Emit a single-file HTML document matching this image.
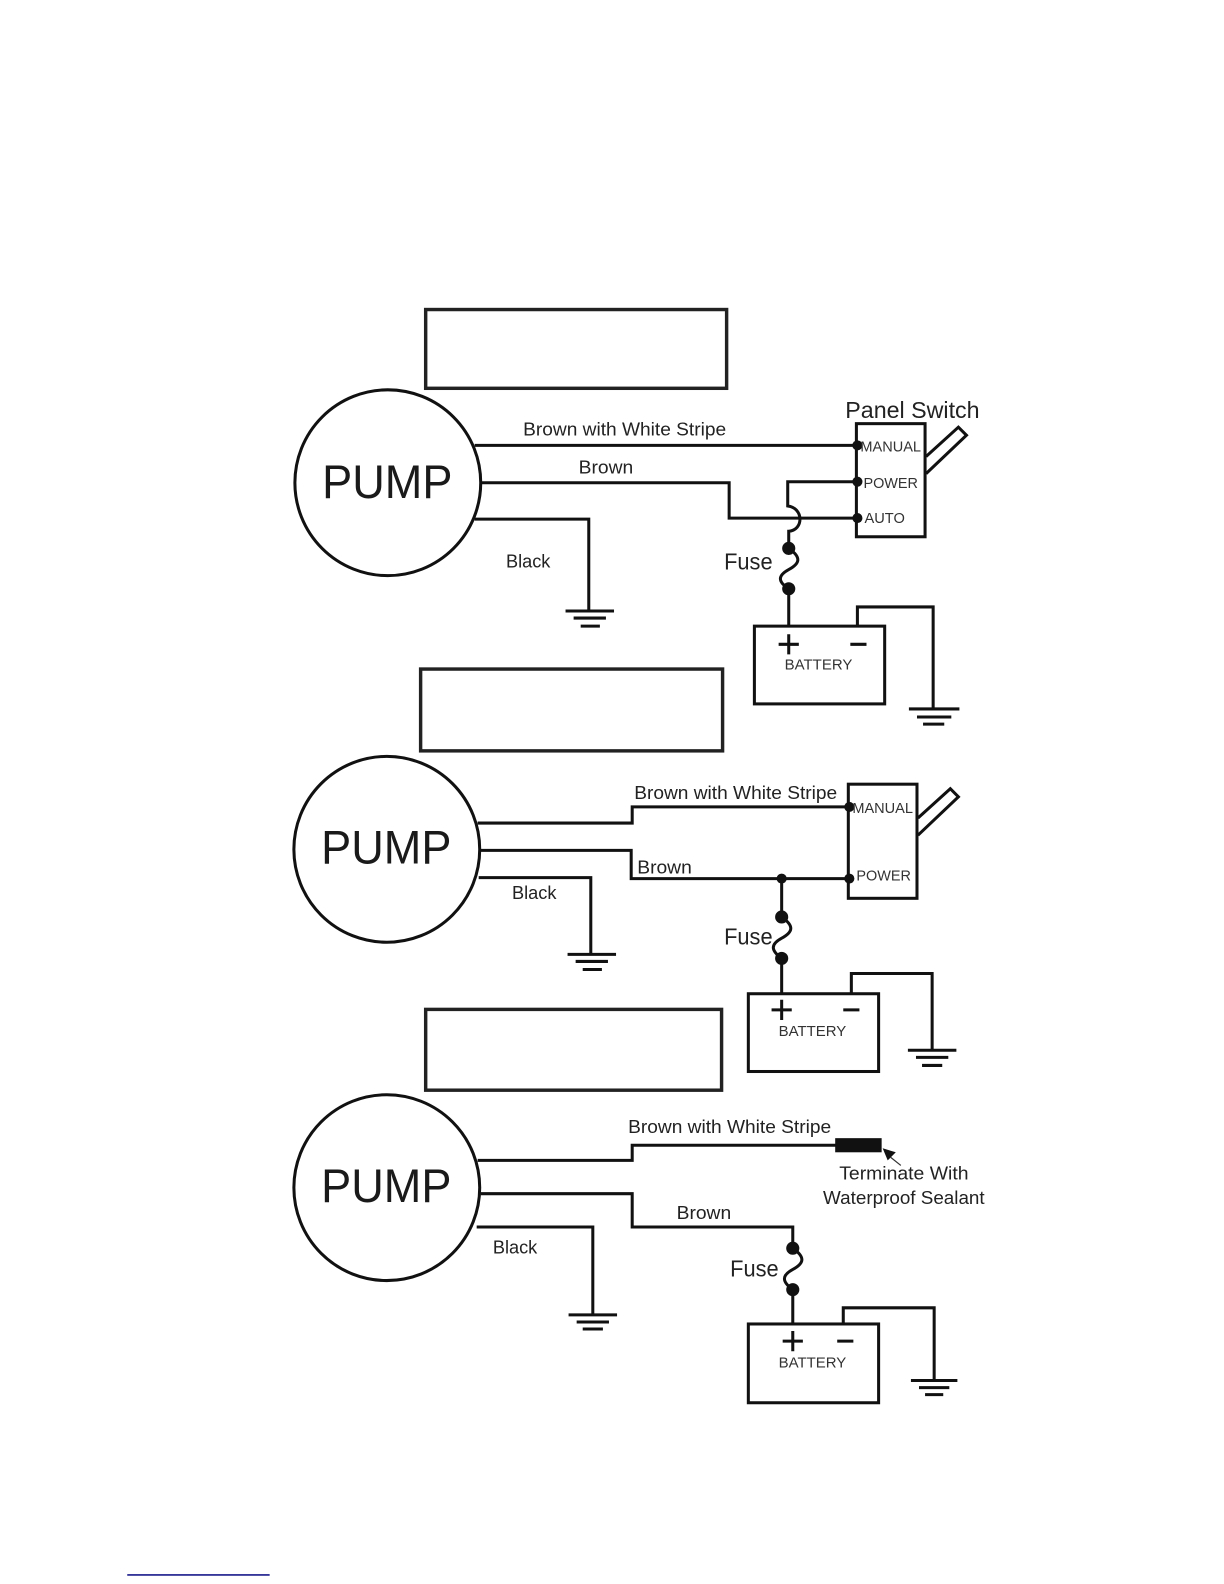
<!DOCTYPE html>
<html><head><meta charset="utf-8"><style>
html,body{margin:0;padding:0;background:#fff;width:1224px;height:1584px;overflow:hidden}
svg{display:block}
text{font-family:"Liberation Sans",sans-serif;fill:#222}
.w{fill:none;stroke:#111;stroke-width:3;stroke-linejoin:miter}
.b{fill:none;stroke:#222;stroke-width:3.400}
.l{font-size:18px}
.s{font-size:14.500px;fill:#333}
.p{font-size:47px;fill:#1a1a1a}
.f{font-size:23px}
</style></head><body>
<svg width="1224" height="1584" viewBox="0 0 1224 1584" xmlns="http://www.w3.org/2000/svg">
<g transform="scale(1.0099)">
<rect x="421.500" y="306.500" width="298" height="78" class="b"/>
<rect x="416.500" y="662.500" width="299" height="81" class="b"/>
<rect x="421.500" y="999.500" width="293" height="80" class="b"/>

<!-- Diagram 1 -->
<circle cx="384" cy="478" r="92" class="w"/>
<text x="319" y="493" class="p" textLength="129" lengthAdjust="spacingAndGlyphs">PUMP</text>
<path class="w" d="M470 441H848"/>
<path class="w" d="M477 478H722V513H848"/>
<path class="w" d="M470 514H583V604"/>
<path class="w" d="M560 605H608M568 612H600M575 620H594"/>
<text x="518" y="431" class="l" textLength="201" lengthAdjust="spacingAndGlyphs">Brown with White Stripe</text>
<text x="573" y="469" class="l" textLength="54" lengthAdjust="spacingAndGlyphs">Brown</text>
<text x="501" y="562" class="l" textLength="44" lengthAdjust="spacingAndGlyphs">Black</text>
<text x="837" y="414" style="font-size:23px" textLength="133" lengthAdjust="spacingAndGlyphs">Panel Switch</text>
<rect x="848" y="419.500" width="68" height="112" class="w"/>
<path class="w" d="M917 452L949 423L957 431L917 469"/>
<circle cx="849" cy="441" r="5" fill="#111"/><circle cx="849" cy="477" r="5" fill="#111"/><circle cx="849" cy="513" r="5" fill="#111"/>
<text x="852" y="447" class="s" textLength="60" lengthAdjust="spacingAndGlyphs">MANUAL</text>
<text x="855" y="483" class="s" textLength="54" lengthAdjust="spacingAndGlyphs">POWER</text>
<text x="856" y="518" class="s" textLength="40" lengthAdjust="spacingAndGlyphs">AUTO</text>
<path class="w" d="M848 477H780V501C796 503 796 525 781 526V543"/>
<circle cx="781" cy="543" r="6.500" fill="#111"/><circle cx="781" cy="583" r="6.500" fill="#111"/>
<path class="w" d="M781 543C794 552 792 558 781 564C770 570 770 576 781 583V620"/>
<text x="717" y="564" class="f" textLength="48" lengthAdjust="spacingAndGlyphs">Fuse</text>
<rect x="747" y="620" width="129" height="77" class="w"/>
<path class="w" d="M849 620V601H924V701"/>
<path class="w" d="M900 702H950M908 710H942M914 717H935"/>
<path class="w" d="M771 638H791M781 628V648M842 638H858"/>
<text x="777" y="663" class="s" textLength="67" lengthAdjust="spacingAndGlyphs">BATTERY</text>

<!-- Diagram 2 -->
<circle cx="383" cy="841" r="92" class="w"/>
<text x="318" y="855" class="p" textLength="129" lengthAdjust="spacingAndGlyphs">PUMP</text>
<path class="w" d="M473 815H626V799H840"/>
<path class="w" d="M476 842H625V870H840"/>
<path class="w" d="M474 869H585V944"/>
<path class="w" d="M562 945H610M570 952H602M577 960H596"/>
<text x="628" y="791" class="l" textLength="201" lengthAdjust="spacingAndGlyphs">Brown with White Stripe</text>
<text x="631" y="865" class="l" textLength="54" lengthAdjust="spacingAndGlyphs">Brown</text>
<text x="507" y="890" class="l" textLength="44" lengthAdjust="spacingAndGlyphs">Black</text>
<rect x="840" y="776.500" width="68" height="113" class="w"/>
<path class="w" d="M909 810L941 781L949 789L909 827"/>
<circle cx="841" cy="799" r="5" fill="#111"/><circle cx="841" cy="870" r="5" fill="#111"/><circle cx="774" cy="870" r="5" fill="#111"/>
<text x="844" y="805" class="s" textLength="60" lengthAdjust="spacingAndGlyphs">MANUAL</text>
<text x="848" y="872" class="s" textLength="54" lengthAdjust="spacingAndGlyphs">POWER</text>
<path class="w" d="M774 870V908C787 917 785 923 774 929C763 935 763 941 774 949V984"/>
<circle cx="774" cy="908" r="6.500" fill="#111"/><circle cx="774" cy="949" r="6.500" fill="#111"/>
<text x="717" y="935" class="f" textLength="48" lengthAdjust="spacingAndGlyphs">Fuse</text>
<rect x="741" y="984" width="129" height="77" class="w"/>
<path class="w" d="M843 984V964H923V1039"/>
<path class="w" d="M899 1040H947M907 1047H939M913 1055H933"/>
<path class="w" d="M764 1000H784M774 990V1010M835 1000H851"/>
<text x="771" y="1026" class="s" textLength="67" lengthAdjust="spacingAndGlyphs">BATTERY</text>

<!-- Diagram 3 -->
<circle cx="383" cy="1176" r="92" class="w"/>
<text x="318" y="1190" class="p" textLength="129" lengthAdjust="spacingAndGlyphs">PUMP</text>
<path class="w" d="M473 1149H626V1134H830"/>
<path class="w" d="M476 1182H626V1215H785V1236"/>
<path class="w" d="M472 1215H587V1301"/>
<path class="w" d="M563 1302H611M571 1309H603M577 1316H597"/>
<text x="622" y="1122" class="l" textLength="201" lengthAdjust="spacingAndGlyphs">Brown with White Stripe</text>
<text x="670" y="1207" class="l" textLength="54" lengthAdjust="spacingAndGlyphs">Brown</text>
<text x="488" y="1241" class="l" textLength="44" lengthAdjust="spacingAndGlyphs">Black</text>
<rect x="827" y="1127" width="46" height="14" fill="#111"/>
<path d="M874 1137L887 1141L879 1149Z" fill="#111"/>
<path d="M882 1146L892 1154" stroke="#333" stroke-width="1.200"/>
<text x="831" y="1168" class="l" textLength="128" lengthAdjust="spacingAndGlyphs">Terminate With</text>
<text x="815" y="1192" class="l" textLength="160" lengthAdjust="spacingAndGlyphs">Waterproof Sealant</text>
<path class="w" d="M785 1236C798 1245 796 1251 785 1257C774 1263 774 1269 785 1277V1311"/>
<circle cx="785" cy="1236" r="6.500" fill="#111"/><circle cx="785" cy="1277" r="6.500" fill="#111"/>
<text x="723" y="1264" class="f" textLength="48" lengthAdjust="spacingAndGlyphs">Fuse</text>
<rect x="741" y="1311" width="129" height="78" class="w"/>
<path class="w" d="M835 1311V1295H925V1366"/>
<path class="w" d="M902 1367H948M910 1374H940M916 1381H934"/>
<path class="w" d="M775 1328H795M785 1318V1338M829 1328H845"/>
<text x="771" y="1354" class="s" textLength="67" lengthAdjust="spacingAndGlyphs">BATTERY</text>

<path d="M126 1559.500H267" stroke="#1a1a8c" stroke-width="1.500"/>
</g>
</svg>
</body></html>
